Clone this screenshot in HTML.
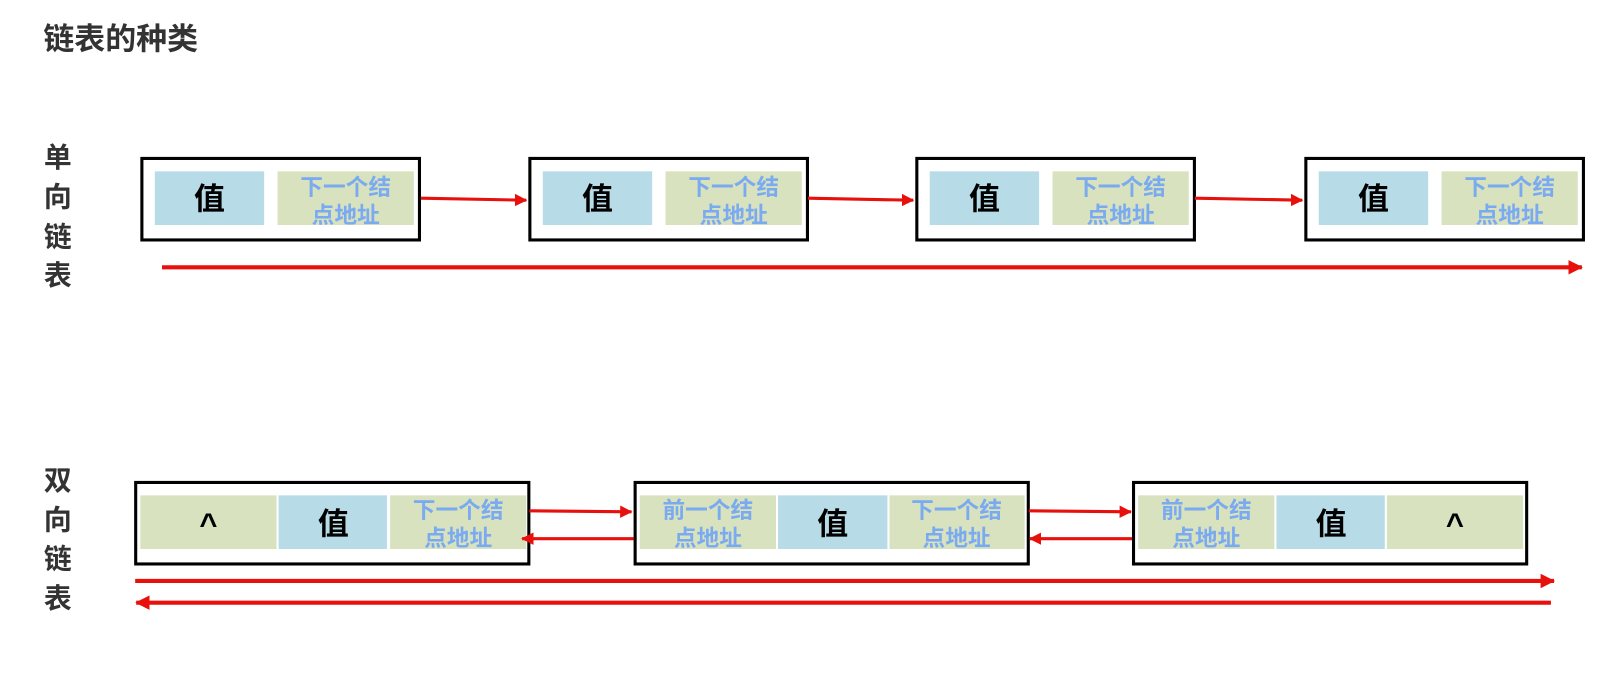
<!DOCTYPE html>
<html><head><meta charset="utf-8"><style>
html,body{margin:0;padding:0;background:#fff;}
svg{display:block;}
text{font-family:"Liberation Sans","Noto Sans CJK SC",sans-serif;}
</style></head><body>
<svg width="1618" height="677" viewBox="0 0 1568 656" xmlns="http://www.w3.org/2000/svg">
<defs>
<marker id="ah" markerWidth="12" markerHeight="12" refX="11" refY="6" orient="auto" markerUnits="userSpaceOnUse">
<path d="M0,0 L12,6 L0,12 z" fill="#e8100c"/></marker>
<marker id="ahL" markerWidth="14" markerHeight="14" refX="13" refY="7" orient="auto" markerUnits="userSpaceOnUse">
<path d="M0,0 L14,7 L0,14 z" fill="#e8100c"/></marker>
</defs>
<g fill="#333" font-weight="bold">
<text x="42" y="48" font-size="30">链表的种类</text>
<g font-size="27" text-anchor="middle">
<text x="56" y="162">单</text><text x="56" y="200">向</text><text x="56" y="239">链</text><text x="56" y="276">表</text>
<text x="56" y="475">双</text><text x="56" y="513">向</text><text x="56" y="551">链</text><text x="56" y="589">表</text>
</g></g>

<!-- single list -->
<g id="n">
<rect x="137.5" y="153.5" width="269" height="79" fill="#fff" stroke="#000" stroke-width="3"/>
<rect x="150" y="166" width="106" height="52" fill="#b7dce8"/>
<rect x="269" y="166" width="132" height="52" fill="#d8e2bf"/>
<text x="203" y="203" font-size="30" font-weight="bold" text-anchor="middle" fill="#000">值</text>
<text x="335" y="189" font-size="22" font-weight="bold" text-anchor="middle" fill="#7aaaf0">下一个结</text>
<text x="335" y="216" font-size="22" font-weight="bold" text-anchor="middle" fill="#7aaaf0">点地址</text>
</g>
<use href="#n" x="376"/><use href="#n" x="751"/><use href="#n" x="1128"/>
<g stroke="#e8100c" stroke-width="3" fill="none">
<line x1="408" y1="192" x2="510" y2="194" marker-end="url(#ah)"/>
<line x1="783" y1="192" x2="885" y2="194" marker-end="url(#ah)"/>
<line x1="1158" y1="192" x2="1262" y2="194" marker-end="url(#ah)"/>
<line x1="157" y1="259" x2="1533" y2="259" stroke-width="4" marker-end="url(#ahL)"/>
</g>

<!-- double list -->
<g fill="none" stroke="#000" stroke-width="3">
<rect x="131.5" y="467.5" width="381" height="79" fill="#fff"/>
<rect x="615.5" y="467.5" width="381" height="79" fill="#fff"/>
<rect x="1098.5" y="467.5" width="381" height="79" fill="#fff"/>
</g>
<g>
<rect x="136" y="480" width="132" height="52" fill="#d8e2bf"/>
<rect x="270" y="480" width="105" height="52" fill="#b7dce8"/>
<rect x="378" y="480" width="132" height="52" fill="#d8e2bf"/>
<rect x="620" y="480" width="132" height="52" fill="#d8e2bf"/>
<rect x="754" y="480" width="106" height="52" fill="#b7dce8"/>
<rect x="862" y="480" width="131" height="52" fill="#d8e2bf"/>
<rect x="1103" y="480" width="132" height="52" fill="#d8e2bf"/>
<rect x="1237" y="480" width="105" height="52" fill="#b7dce8"/>
<rect x="1344" y="480" width="132" height="52" fill="#d8e2bf"/>
</g>
<g font-size="30" text-anchor="middle" fill="#000" font-weight="bold">
<text x="202" y="518">^</text>
<text x="323" y="518">值</text>
<text x="807" y="518">值</text>
<text x="1290" y="518">值</text>
<text x="1410" y="518">^</text>
</g>
<g font-size="22" font-weight="bold" text-anchor="middle" fill="#7aaaf0">
<text x="444" y="502">下一个结</text><text x="444" y="529">点地址</text>
<text x="686" y="502">前一个结</text><text x="686" y="529">点地址</text>
<text x="927" y="502">下一个结</text><text x="927" y="529">点地址</text>
<text x="1169" y="502">前一个结</text><text x="1169" y="529">点地址</text>
</g>
<g stroke="#e8100c" stroke-width="3" fill="none">
<line x1="513" y1="495" x2="612" y2="496" marker-end="url(#ah)"/>
<line x1="614" y1="522" x2="506" y2="522" marker-end="url(#ah)"/>
<line x1="997" y1="495" x2="1096" y2="496" marker-end="url(#ah)"/>
<line x1="1097" y1="522" x2="998" y2="522" marker-end="url(#ah)"/>
<line x1="131" y1="563" x2="1506" y2="563" stroke-width="4" marker-end="url(#ahL)"/>
<line x1="1503" y1="584" x2="132" y2="584" stroke-width="4" marker-end="url(#ahL)"/>
</g>
</svg>
</body></html>
